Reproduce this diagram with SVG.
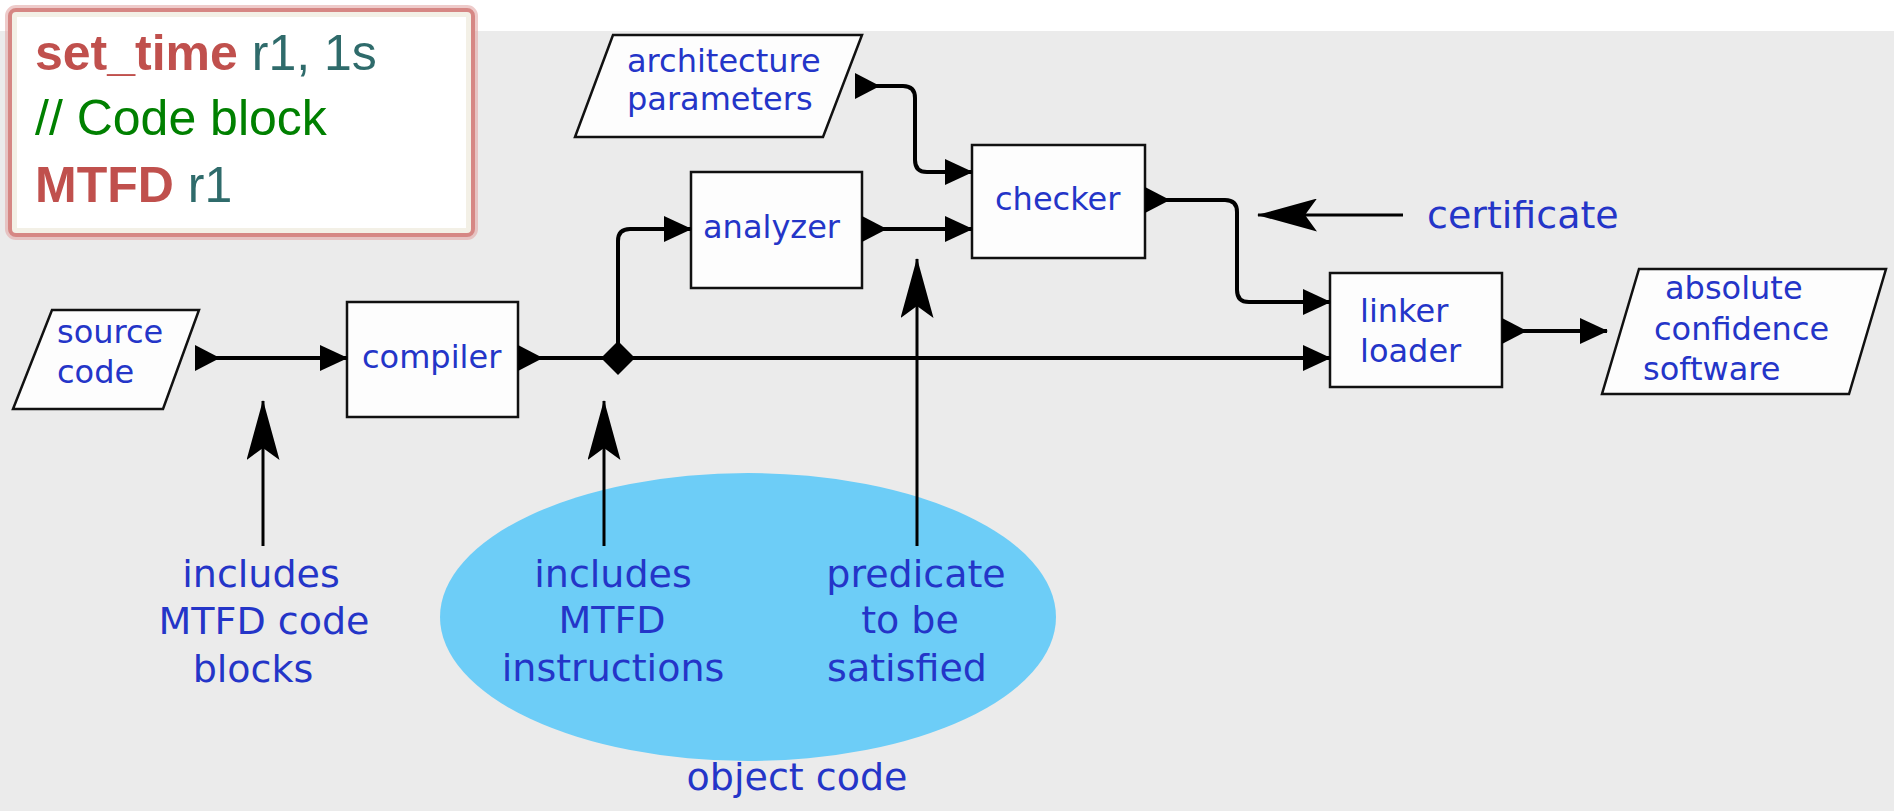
<svg xmlns="http://www.w3.org/2000/svg" width="1894" height="811" viewBox="0 0 1894 811">
<style>
.box{fill:#fdfdfd;stroke:#111;stroke-width:2.5}
.lbl{font-family:"DejaVu Sans",sans-serif;font-size:32px;fill:#2435c8}
.big{font-family:"DejaVu Sans",sans-serif;font-size:38px;fill:#2435c8}
.mid{text-anchor:middle}
.conn{fill:none;stroke:#000;stroke-width:4;stroke-linejoin:round}
.thin{fill:none;stroke:#000;stroke-width:3}
.code{font-family:"Liberation Sans",Arial,sans-serif;font-size:50px}
.kw{fill:#c0504d;font-weight:bold}
.arg{fill:#2f6b6b}
.cmt{fill:#008000}
</style>
<defs>
<marker id="head" markerUnits="userSpaceOnUse" viewBox="0 0 28 26" refX="27" refY="13" markerWidth="28" markerHeight="26" orient="auto"><path d="M0,0 L28,13 L0,26 z" fill="#000"/></marker>
<marker id="tail" markerUnits="userSpaceOnUse" viewBox="0 0 25 26" refX="0" refY="13" markerWidth="25" markerHeight="26" orient="auto"><path d="M0,0 L25,13 L0,26 z" fill="#000"/></marker>
<marker id="swept" markerUnits="userSpaceOnUse" viewBox="0 0 60 33" refX="59" refY="16.5" markerWidth="60" markerHeight="33" orient="auto"><path d="M0,0 L60,16.5 L0,33 L12,16.5 z" fill="#000"/></marker>
</defs>
<rect x="0" y="0" width="1894" height="811" fill="#ffffff"/>
<rect x="0" y="31" width="1894" height="780" fill="#ebebeb"/>

<g id="code-box">
<rect x="9" y="9" width="465" height="227" rx="7" fill="none" stroke="#e3a9a6" stroke-width="8" opacity="0.6"/>
<rect x="10" y="10" width="463" height="225" rx="6" fill="#f3f0e6" stroke="#d68784" stroke-width="4"/>
<rect x="17" y="17" width="449" height="211" fill="#ffffff"/>
<text class="code" x="35" y="70"><tspan class="kw">set_time</tspan><tspan class="arg"> r1, 1s</tspan></text>
<text class="code cmt" x="35" y="135">// Code block</text>
<text class="code" x="35" y="202"><tspan class="kw">MTFD</tspan><tspan class="arg"> r1</tspan></text>
</g>

<g id="object-code">
<ellipse cx="748" cy="617" rx="308" ry="144" fill="#6dcdf7"/>
</g>

<g id="source-code">
<polygon class="box" points="52,310 199,310 163,409 13,409"/>
<text class="lbl" x="57" y="343">source</text>
<text class="lbl" x="57" y="383">code</text>
</g>

<g id="compiler">
<rect class="box" x="347" y="302" width="171" height="115"/>
<text class="lbl" x="362" y="368">compiler</text>
</g>

<g id="architecture-parameters">
<polygon class="box" points="613,35 862,35 823,137 575,137"/>
<text class="lbl" x="627" y="72">architecture</text>
<text class="lbl" x="627" y="110">parameters</text>
</g>

<g id="analyzer">
<rect class="box" x="691" y="172" width="171" height="116"/>
<text class="lbl" x="703" y="238">analyzer</text>
</g>

<g id="checker">
<rect class="box" x="972" y="145" width="173" height="113"/>
<text class="lbl" x="995" y="210">checker</text>
</g>

<g id="linker-loader">
<rect class="box" x="1330" y="273" width="172" height="114"/>
<text class="lbl" x="1360" y="322">linker</text>
<text class="lbl" x="1360" y="362">loader</text>
</g>

<g id="absolute-confidence-software">
<polygon class="box" points="1639,269 1886,269 1849,394 1602,394"/>
<text class="lbl" x="1665" y="299">absolute</text>
<text class="lbl" x="1654" y="340">confidence</text>
<text class="lbl" x="1643" y="380">software</text>
</g>

<g id="junction">
<polygon points="618,341 635,358 618,375 601,358" fill="#000"/>
</g>

<g id="connectors">
<path class="conn" d="M195,358 H347" marker-start="url(#tail)" marker-end="url(#head)"/>
<path class="conn" d="M518,358 H1330" marker-start="url(#tail)" marker-end="url(#head)"/>
<path class="conn" d="M618,358 V241 Q618,229 630,229 H691" marker-end="url(#head)"/>
<path class="conn" d="M855,86 H903 Q915,86 915,98 V160 Q915,172 927,172 H972" marker-start="url(#tail)" marker-end="url(#head)"/>
<path class="conn" d="M862,229 H972" marker-start="url(#tail)" marker-end="url(#head)"/>
<path class="conn" d="M1145,200 H1225 Q1237,200 1237,212 V290 Q1237,302 1249,302 H1330" marker-start="url(#tail)" marker-end="url(#head)"/>
<path class="conn" d="M1502,331 H1607" marker-start="url(#tail)" marker-end="url(#head)"/>
<path class="thin" d="M1403,215 H1258" marker-end="url(#swept)"/>
<path class="thin" d="M263,546 V401" marker-end="url(#swept)"/>
<path class="thin" d="M604,546 V401" marker-end="url(#swept)"/>
<path class="thin" d="M917,546 V259" marker-end="url(#swept)"/>
</g>

<g id="labels">
<text class="big" x="1427" y="228">certificate</text>
<text class="big mid" x="261" y="587">includes</text>
<text class="big mid" x="264" y="634">MTFD code</text>
<text class="big mid" x="253" y="682">blocks</text>
<text class="big mid" x="613" y="587">includes</text>
<text class="big mid" x="612" y="633">MTFD</text>
<text class="big mid" x="613" y="681">instructions</text>
<text class="big mid" x="916" y="587">predicate</text>
<text class="big mid" x="910" y="633">to be</text>
<text class="big mid" x="907" y="681">satisfied</text>
<text class="big mid" x="797" y="790">object code</text>
</g>
</svg>
